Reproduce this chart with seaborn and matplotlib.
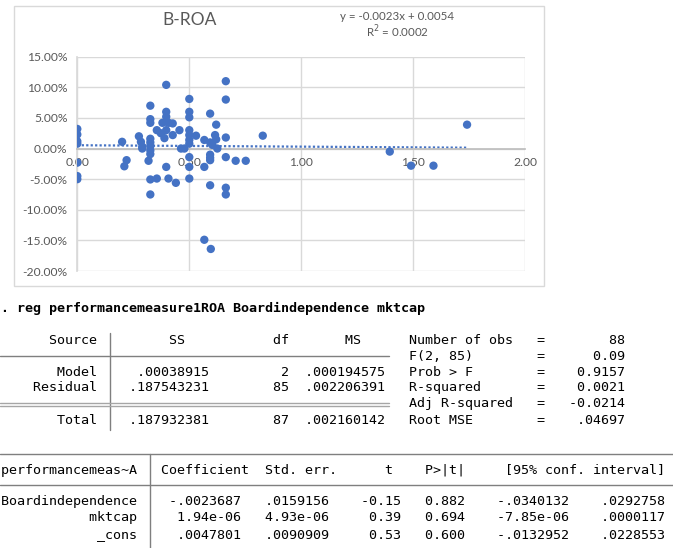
import numpy as np
import pandas as pd
import matplotlib
matplotlib.use("Agg")
import matplotlib.pyplot as plt
import seaborn as sns
from matplotlib.ticker import FuncFormatter, MultipleLocator
from matplotlib.lines import Line2D
from matplotlib.patches import Rectangle

# ---------------- data ----------------
board_independence = [
    0.0, 0.0, 0.0, 0.0, 0.0, 0.0, 0.0,
    0.20, 0.21, 0.22, 0.275, 0.284, 0.29, 0.29, 0.318,
    0.326, 0.326, 0.326, 0.326, 0.326, 0.326, 0.326, 0.326, 0.326, 0.326,
    0.355, 0.355, 0.373, 0.38, 0.389,
    0.397, 0.397, 0.397, 0.397, 0.397, 0.397,
    0.407, 0.408, 0.426, 0.426, 0.44, 0.456, 0.463, 0.478,
    0.5, 0.5, 0.5, 0.5, 0.5, 0.5, 0.5, 0.5, 0.5, 0.5,
    0.53, 0.567, 0.567, 0.567,
    0.593, 0.593, 0.593, 0.593, 0.593, 0.593, 0.596,
    0.603, 0.615, 0.62, 0.62, 0.625,
    0.663, 0.663, 0.663, 0.663, 0.663, 0.663,
    0.707, 0.752, 0.828, 1.395, 1.49, 1.59, 1.74,
]
roa_pct = [
    3.2, 2.3, 1.2, 0.8, -2.3, -4.5, -5.0,
    1.1, -2.9, -1.9, 2.0, 1.1, 0.3, 0.0, -2.0,
    7.0, 4.8, 4.2, 1.6, 1.0, 0.4, -0.3, -0.9, -5.05, -7.5,
    3.0, -4.9, 2.5, 4.2, 1.7,
    10.4, 6.0, 5.2, 4.4, 3.0, -3.0,
    -4.9, 4.2, 4.1, 2.2, -5.6, 3.0, 0.0, 0.0,
    8.1, 6.0, 5.1, 3.0, 2.2, 1.4, 0.8, -1.4, -3.0, -4.9,
    2.1, 1.4, -3.0, -14.9,
    5.7, 1.0, -1.0, -1.5, -1.9, -6.0, -16.4,
    0.6, 2.2, 3.9, 1.5, 0.0,
    11.0, 8.0, 1.8, -1.4, -6.4, -7.5,
    -2.0, -2.0, 2.1, -0.5, -2.8, -2.8, 3.9,
]
trend_slope = -0.0023
trend_intercept = 0.0054
r_squared = 0.0002
chart_title = "B-ROA"

command_line = ". reg performancemeasure1ROA Boardindependence mktcap"
anova_lines = [
    "      Source |       SS           df       MS      Number of obs   =        88",
    "             |                                     F(2, 85)        =      0.09",
    "       Model |   .00038915         2  .000194575   Prob > F        =    0.9157",
    "    Residual |  .187543231        85  .002206391   R-squared       =    0.0021",
    "             |                                     Adj R-squared   =   -0.0214",
    "       Total |  .187932381        87  .002160142   Root MSE        =    .04697",
]
coef_header = "performancemeas~A | Coefficient  Std. err.      t    P>|t|     [95% conf. interval]"
coef_lines = [
    "Boardindependence |  -.0023687   .0159156    -0.15   0.882    -.0340132    .0292758",
    "           mktcap |   1.94e-06   4.93e-06     0.39   0.694    -7.85e-06    .0000117",
    "            _cons |   .0047801   .0090909     0.53   0.600    -.0132952    .0228553",
]

# ---------------- figure ----------------
W, H = 673, 548
sns.set_theme(style="white")
plt.rcParams['font.family'] = ['Lato', 'DejaVu Sans']
fig = plt.figure(figsize=(W / 100, H / 100), dpi=100)
fig.patch.set_facecolor("white")


def fx(px):
    return px / W


def fy(py):
    return 1 - py / H


# chart frame
fig.add_artist(Rectangle((fx(13.5), fy(285.7)), fx(544) - fx(13.5), fy(6) - fy(285.7),
                         transform=fig.transFigure, fill=False, edgecolor="#d9d9d9", lw=1))

ax = fig.add_axes([fx(77.3), fy(271), fx(525.3) - fx(77.3), fy(56.7) - fy(271)])
df = pd.DataFrame({"board": board_independence, "roa": np.array(roa_pct) / 100})
sns.scatterplot(data=df, x="board", y="roa", ax=ax, s=36, color="#4472C4",
                edgecolor="none", linewidth=0, zorder=3, legend=False)

xs = np.array([df["board"].min(), df["board"].max()])
trend = pd.DataFrame({"board": xs, "roa": trend_slope * xs + trend_intercept})
sns.lineplot(data=trend, x="board", y="roa", ax=ax, color="#4472C4", lw=1.6,
             linestyle=(0, (1, 1)), zorder=2)

ax.set_xlim(0, 2)
ax.set_ylim(-0.20, 0.15)
ax.xaxis.set_major_locator(MultipleLocator(0.5))
ax.yaxis.set_major_locator(MultipleLocator(0.05))
ax.yaxis.set_major_formatter(FuncFormatter(lambda v, p: f"{round(v * 100, 2) + 0:.2f}%"))
ax.xaxis.set_major_formatter(FuncFormatter(lambda v, p: f"{v:.2f}"))
ax.grid(True, color="#d9d9d9", lw=1)
ax.set_axisbelow(True)
for s in ["top", "right"]:
    ax.spines[s].set_visible(False)
ax.spines["bottom"].set_position(("data", 0))
ax.spines["bottom"].set_color("#bfbfbf")
ax.spines["left"].set_color("#d9d9d9")
ax.tick_params(axis="both", length=0, labelsize=8.7, labelcolor="#595959")
ax.tick_params(axis="x", pad=6)
ax.tick_params(axis="y", pad=7)
ax.set_xlabel("")
ax.set_ylabel("")
ax.set_facecolor("white")

fig.text(fx(190), fy(20), chart_title, ha="center", va="center", fontsize=12.5, color="#595959")
fig.text(fx(397), fy(17), f"y = {trend_slope:.4f}x + {trend_intercept:.4f}",
         ha="center", va="center", fontsize=8.3, color="#595959")
fig.text(fx(397), fy(32), f"R$^2$ = {r_squared:.4f}", ha="center", va="center",
         fontsize=8.3, color="#595959")

# ---------------- Stata output ----------------
CW = 8.08
X0 = 1.0
mono = dict(family="DejaVu Sans Mono", fontsize=CW / 0.602 * 72 / 100, color="black",
            va="center", ha="left")

fig.text(fx(X0), fy(308), command_line, fontweight="bold", **mono)

anova_y = [340, 356, 372, 388, 404, 421]
for line, yy in zip(anova_lines, anova_y):
    fig.text(fx(X0), fy(yy), line.replace("|", " "), **mono)

line_col = "#7f7f7f"
vx1 = X0 + 13.5 * CW
fig.add_artist(Line2D([fx(vx1), fx(vx1)], [fy(333), fy(430)], transform=fig.transFigure,
                      color=line_col, lw=1))
fig.add_artist(Line2D([fx(0), fx(X0 + 48 * CW)], [fy(356), fy(356)], transform=fig.transFigure,
                      color=line_col, lw=1))
for yy in (403, 405.5):
    fig.add_artist(Line2D([fx(0), fx(X0 + 48 * CW)], [fy(yy), fy(yy)], transform=fig.transFigure,
                          color="#a6a6a6", lw=1))

fig.text(fx(X0), fy(470.5), coef_header.replace(" | ", "   "), **mono)
for line, yy in zip(coef_lines, [501.5, 518, 534.5]):
    fig.text(fx(X0), fy(yy), line.replace(" | ", "   "), **mono)

vx2 = X0 + 18.5 * CW
fig.add_artist(Line2D([fx(vx2), fx(vx2)], [fy(454), fy(548)], transform=fig.transFigure,
                      color=line_col, lw=1))
for yy in (454, 485):
    fig.add_artist(Line2D([fx(0), fx(W)], [fy(yy), fy(yy)], transform=fig.transFigure,
                          color=line_col, lw=1))

fig.savefig("out.png", dpi=100, facecolor="white")
